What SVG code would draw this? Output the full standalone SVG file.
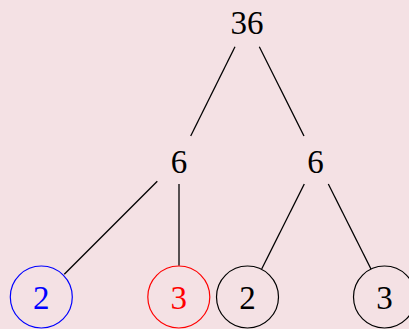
<svg xmlns="http://www.w3.org/2000/svg" width="409" height="329" viewBox="0 0 409 329">
<style>
text{font-family:"Liberation Serif","Times New Roman",serif;font-size:33px;text-anchor:middle}
.c{fill:none;stroke-width:1.2}
.e{stroke:#000;stroke-width:1.3;fill:none}
</style>
<rect width="409" height="329" fill="#f4e1e4"/>
<g id="connectors">
<line class="e" x1="235" y1="46.7" x2="190.7" y2="136"/>
<line class="e" x1="259.3" y1="46.7" x2="304" y2="136"/>
<line class="e" x1="157.3" y1="181.3" x2="64.3" y2="274.3"/>
<line class="e" x1="179" y1="184" x2="179" y2="265.7"/>
<line class="e" x1="304.3" y1="184" x2="261.7" y2="269"/>
<line class="e" x1="328.3" y1="184" x2="371" y2="269"/>
</g>
<g id="n36"><text x="247" y="34">36</text></g>
<g id="n6a"><text x="179" y="172.5">6</text></g>
<g id="n6b"><text x="315.5" y="172.5">6</text></g>
<g id="n2a"><circle class="c" cx="41.3" cy="297" r="31" stroke="#0000ff"/><text x="41.3" y="309" fill="#0000ff">2</text></g>
<g id="n3a"><circle class="c" cx="178.8" cy="297" r="31" stroke="#ff0000"/><text x="178.8" y="309" fill="#ff0000">3</text></g>
<g id="n2b"><circle class="c" cx="247.5" cy="297" r="31" stroke="#000"/><text x="247.5" y="309">2</text></g>
<g id="n3b"><circle class="c" cx="384.5" cy="297" r="31" stroke="#000"/><text x="384.5" y="309">3</text></g>
</svg>
